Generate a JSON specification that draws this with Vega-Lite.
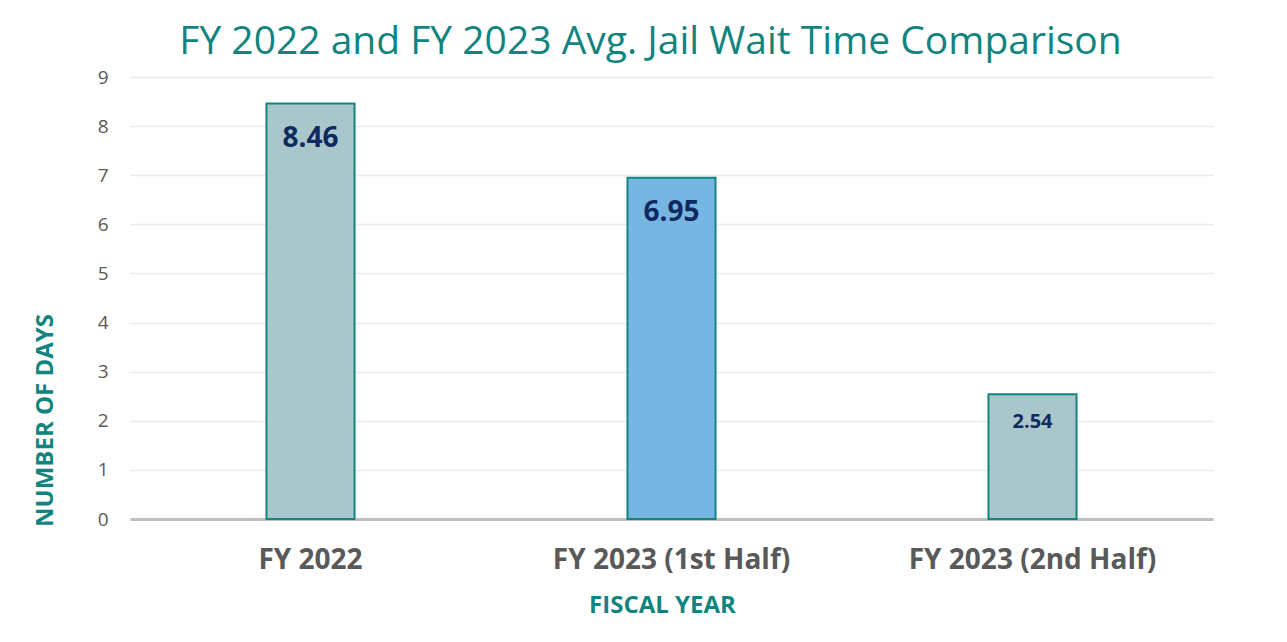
{
  "$schema": "https://vega.github.io/schema/vega-lite/v6.json",
  "autosize": "none",
  "width": 1083,
  "height": 442,
  "padding": {"left": 130, "top": 77, "right": 74, "bottom": 123},
  "background": "white",
  "title": {
    "text": "FY 2022 and FY 2023 Avg. Jail Wait Time Comparison",
    "font": "Open Sans",
    "fontSize": 39,
    "fontWeight": "normal",
    "color": "#12847F",
    "anchor": "middle",
    "dx": -21,
    "offset": 6
  },
  "data": {
    "values": [
      {"year": "FY 2022", "days": 8.46, "label": "8.46", "group": "a", "big": "y"},
      {"year": "FY 2023 (1st Half)", "days": 6.95, "label": "6.95", "group": "b", "big": "y"},
      {"year": "FY 2023 (2nd Half)", "days": 2.54, "label": "2.54", "group": "a", "big": "n"}
    ]
  },
  "encoding": {
    "x": {
      "field": "year",
      "type": "nominal",
      "sort": null,
      "scale": {"paddingInner": 0.756, "paddingOuter": 0.378},
      "axis": {
        "title": "FISCAL YEAR",
        "titleFont": "Open Sans",
        "titleFontSize": 24,
        "titleFontWeight": "bold",
        "titleColor": "#12847F",
        "titleX": 532,
        "titleY": 86,
        "titleBaseline": "middle",
        "labelAngle": 0,
        "labelFont": "Open Sans",
        "labelFontSize": 28,
        "labelFontWeight": "bold",
        "labelColor": "#595959",
        "labelPadding": 27,
        "labelLimit": 500,
        "ticks": false,
        "domainColor": "#BFBFBF",
        "domainWidth": 3
      }
    },
    "y": {
      "field": "days",
      "type": "quantitative",
      "scale": {"domain": [0, 9]},
      "axis": {
        "title": "NUMBER OF DAYS",
        "titleFont": "Open Sans",
        "titleFontSize": 24,
        "titleFontWeight": "bold",
        "titleColor": "#12847F",
        "titleX": -85,
        "titleY": 343,
        "titleAngle": -90,
        "titleAlign": "center",
        "titleBaseline": "middle",
        "values": [0,1,2,3,4,5,6,7,8,9],
        "labelFont": "Open Sans",
        "labelFontSize": 19,
        "labelColor": "#595959",
        "labelPadding": 22,
        "ticks": false,
        "domain": false,
        "gridColor": "#EBEBEB",
        "gridWidth": 1.5
      }
    }
  },
  "layer": [
    {
      "mark": {"type": "bar", "stroke": "#12857F", "strokeWidth": 2},
      "encoding": {
        "color": {
          "field": "group",
          "type": "nominal",
          "scale": {"domain": ["a", "b"], "range": ["#A9C6CB", "#77B5E3"]},
          "legend": null
        }
      }
    },
    {
      "transform": [{"filter": "datum.big == 'y'"}],
      "mark": {"type": "text", "baseline": "middle", "dy": 35, "fontSize": 28, "font": "Open Sans", "fontWeight": "bold", "color": "#0F2A5E"},
      "encoding": {"text": {"field": "label"}}
    },
    {
      "transform": [{"filter": "datum.big == 'n'"}],
      "mark": {"type": "text", "baseline": "middle", "dy": 28, "fontSize": 20, "font": "Open Sans", "fontWeight": "bold", "color": "#0F2A5E"},
      "encoding": {"text": {"field": "label"}}
    }
  ],
  "config": {"view": {"stroke": null}}
}
